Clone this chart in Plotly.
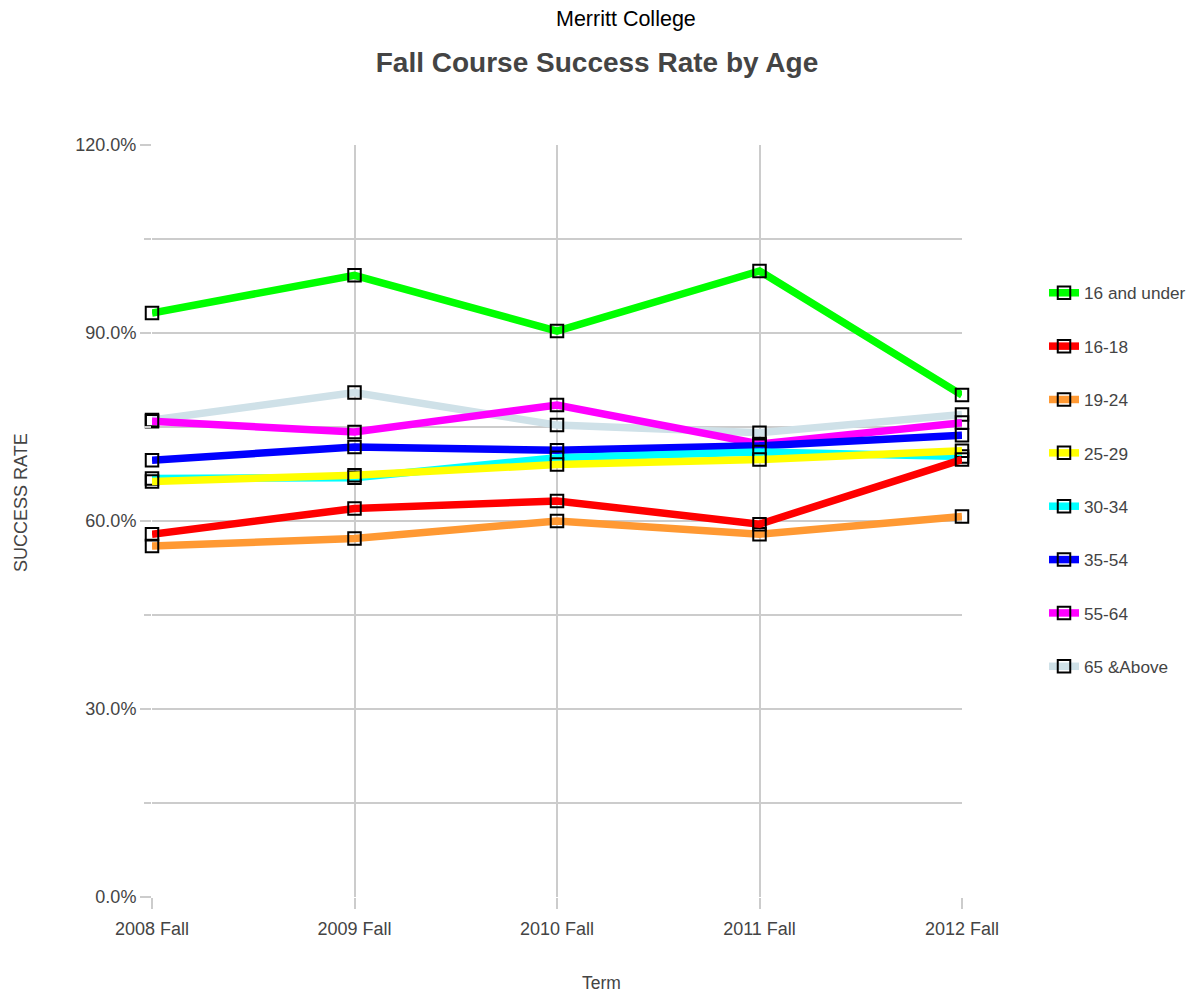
import plotly.graph_objects as go

terms = ["2008 Fall", "2009 Fall", "2010 Fall", "2011 Fall", "2012 Fall"]

age_groups = ["16 and under", "16-18", "19-24", "25-29", "30-34", "35-54", "55-64", "65 &Above"]

rate_16_under = [93.2, 99.2, 90.3, 99.9, 80.1]
rate_16_18 = [57.9, 62.0, 63.2, 59.5, 69.8]
rate_19_24 = [56.0, 57.2, 60.0, 57.9, 60.7]
rate_25_29 = [66.3, 67.3, 69.0, 69.8, 71.2]
rate_30_34 = [66.8, 66.9, 70.1, 71.0, 70.3]
rate_35_54 = [69.7, 71.8, 71.3, 72.0, 73.7]
rate_55_64 = [75.9, 74.2, 78.5, 72.3, 75.7]
rate_65_above = [76.1, 80.5, 75.3, 74.1, 77.0]

series_values = [rate_16_under, rate_16_18, rate_19_24, rate_25_29,
                 rate_30_34, rate_35_54, rate_55_64, rate_65_above]
colors = ["#00ff00", "#ff0000", "#ff9933", "#ffff00", "#00ffff",
          "#0000ff", "#ff00ff", "#cfe1e8"]

y_major_ticks = [0, 30, 60, 90, 120]
y_tick_labels = ["0.0%", "30.0%", "60.0%", "90.0%", "120.0%"]

FONT = "Arial, Liberation Sans, sans-serif"
TXT = "#444444"

fig = go.Figure()
# draw in reverse so the first series sits on top
for i in reversed(range(len(age_groups))):
    fig.add_trace(go.Scatter(
        x=terms, y=series_values[i], name=age_groups[i],
        mode="lines+markers", legendgroup=age_groups[i], legendrank=i + 1,
        line=dict(color=colors[i], width=7.5),
        marker=dict(symbol="square-open", size=12.5, color="#000000",
                    line=dict(width=2, color="#000000")),
        cliponaxis=False,
    ))

W, H = 1189, 988
L, R, T, B = 144, 235, 137, 99
PW, PH = W - L - R, H - T - B
OFF = 8  # page offset of the figure


def px(xp):
    return (xp - OFF - L) / PW


def py(yp):
    return (H - B + OFF - yp) / PH


fig.update_layout(
    width=W, height=H,
    paper_bgcolor="white", plot_bgcolor="white",
    margin=dict(l=L, r=R, t=T, b=B, autoexpand=False),
    font=dict(family=FONT, size=17, color=TXT),
    title=dict(text="<b>Fall Course Success Rate by Age</b>", x=589 / W, xref="container",
               xanchor="center", y=1 - (62 - OFF) / H, yanchor="middle",
               font=dict(size=28, color=TXT, family=FONT)),
    showlegend=True,
    legend=dict(x=px(1044), xanchor="left", y=0.827, yanchor="top",
                traceorder="grouped", tracegroupgap=28,
                font=dict(size=17.2, color=TXT, family=FONT),
                bgcolor="rgba(0,0,0,0)"),
    annotations=[
        dict(text="Merritt College", xref="paper", yref="paper",
             x=px(626), y=py(19), yanchor="middle", xanchor="center", showarrow=False,
             font=dict(size=21.5, color="#000000", family=FONT)),
        dict(text="SUCCESS RATE", xref="paper", yref="paper", textangle=-90,
             x=px(21), y=py(503), xanchor="center", yanchor="middle", showarrow=False,
             font=dict(size=18, color=TXT, family=FONT)),
        dict(text="Term", xref="paper", yref="paper",
             x=px(601), y=py(983), xanchor="center", yanchor="middle", showarrow=False,
             font=dict(size=17.5, color=TXT, family=FONT)),
    ],
)

fig.update_xaxes(
    type="category", range=[0, 4], showgrid=True, gridcolor="#cccccc", gridwidth=2,
    ticks="outside", ticklen=11, tickcolor="#cccccc", tickwidth=2,
    showline=False, zeroline=False, automargin=False, ticklabelstandoff=4,
    tickfont=dict(size=18, color=TXT),
)
fig.update_yaxes(
    range=[0, 120], tickvals=y_major_ticks, ticktext=y_tick_labels,
    showgrid=True, gridcolor="#cccccc", gridwidth=2,
    ticks="outside", ticklen=11, tickcolor="#cccccc", tickwidth=2,
    minor=dict(dtick=15, ticklen=7, tickcolor="#cccccc", tickwidth=2,
               showgrid=True, gridcolor="#cccccc", gridwidth=2, ticks="outside"),
    zeroline=False, showline=False, automargin=False,
    tickfont=dict(size=18, color=TXT),
)

fig.write_html("out.html")
